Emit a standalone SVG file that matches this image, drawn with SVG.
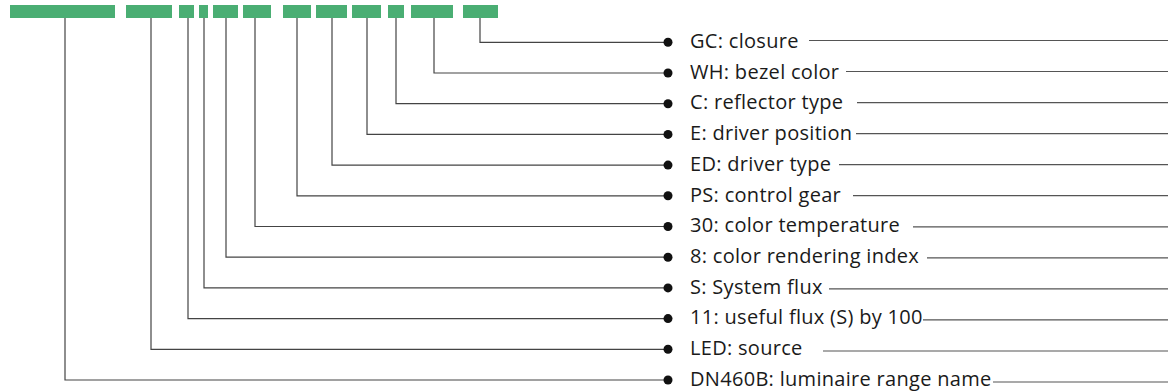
<svg xmlns="http://www.w3.org/2000/svg" width="1168" height="392" viewBox="0 0 1168 392">
<style>
.bar{fill:#4aae73}
.ln{fill:none;stroke:#444;stroke-width:1.2}
.rl{fill:none;stroke:#555;stroke-width:1.2}
.dot{fill:#111}
.t{font-family:"Open Sans","Noto Sans",sans-serif;font-size:20px;letter-spacing:0.3px;fill:#1a1a1a}
</style>
<rect width="1168" height="392" fill="#fff"/>
<g id="bars">
<rect class="bar" x="10" y="5" width="105" height="13"/>
<rect class="bar" x="126" y="5" width="46" height="13"/>
<rect class="bar" x="179" y="5" width="15" height="13"/>
<rect class="bar" x="199" y="5" width="9" height="13"/>
<rect class="bar" x="213" y="5" width="25" height="13"/>
<rect class="bar" x="243" y="5" width="28" height="13"/>
<rect class="bar" x="283" y="5" width="28" height="13"/>
<rect class="bar" x="316" y="5" width="31" height="13"/>
<rect class="bar" x="352" y="5" width="29" height="13"/>
<rect class="bar" x="388" y="5" width="16" height="13"/>
<rect class="bar" x="411" y="5" width="42" height="13"/>
<rect class="bar" x="463" y="5" width="35" height="13"/>
</g>
<g id="connectors">
<path class="ln" d="M480,18V42.3H667"/>
<path class="ln" d="M434,18V73H667"/>
<path class="ln" d="M396,18V103.7H667"/>
<path class="ln" d="M367,18V134.4H667"/>
<path class="ln" d="M332,18V165.1H667"/>
<path class="ln" d="M297,18V195.8H667"/>
<path class="ln" d="M255,18V226.5H667"/>
<path class="ln" d="M226,18V257.2H667"/>
<path class="ln" d="M204,18V287.9H667"/>
<path class="ln" d="M188,18V318.6H667"/>
<path class="ln" d="M151,18V349.3H667"/>
<path class="ln" d="M65,18V380H667"/>
<path class="rl" d="M809,40.5H1168"/>
<path class="rl" d="M846,71.5H1168"/>
<path class="rl" d="M857,102.6H1168"/>
<path class="rl" d="M856,133.6H1168"/>
<path class="rl" d="M839,164.7H1168"/>
<path class="rl" d="M853,195.7H1168"/>
<path class="rl" d="M913,226.8H1168"/>
<path class="rl" d="M927,257.8H1168"/>
<path class="rl" d="M829,288.9H1168"/>
<path class="rl" d="M923,319.9H1168"/>
<path class="rl" d="M823,351H1168"/>
<path class="rl" d="M993,382H1168"/>
</g>
<g id="n-gc"><circle class="dot" cx="668" cy="42.3" r="4.5"/><text class="t" x="690" y="48">GC: closure</text></g>
<g id="n-wh"><circle class="dot" cx="668" cy="73" r="4.5"/><text class="t" x="690" y="78.7">WH: bezel color</text></g>
<g id="n-c"><circle class="dot" cx="668" cy="103.7" r="4.5"/><text class="t" x="690" y="109.4">C: reflector type</text></g>
<g id="n-e"><circle class="dot" cx="668" cy="134.4" r="4.5"/><text class="t" x="690" y="140.1">E: driver position</text></g>
<g id="n-ed"><circle class="dot" cx="668" cy="165.1" r="4.5"/><text class="t" x="690" y="170.8">ED: driver type</text></g>
<g id="n-ps"><circle class="dot" cx="668" cy="195.8" r="4.5"/><text class="t" x="690" y="201.5">PS: control gear</text></g>
<g id="n-30"><circle class="dot" cx="668" cy="226.5" r="4.5"/><text class="t" x="690" y="232.2">30: color temperature</text></g>
<g id="n-8"><circle class="dot" cx="668" cy="257.2" r="4.5"/><text class="t" x="690" y="262.9">8: color rendering index</text></g>
<g id="n-s"><circle class="dot" cx="668" cy="287.9" r="4.5"/><text class="t" x="690" y="293.6">S: System flux</text></g>
<g id="n-11"><circle class="dot" cx="668" cy="318.6" r="4.5"/><text class="t" x="690" y="324.3">11: useful flux (S) by 100</text></g>
<g id="n-led"><circle class="dot" cx="668" cy="349.3" r="4.5"/><text class="t" x="690" y="355">LED: source</text></g>
<g id="n-dn"><circle class="dot" cx="668" cy="380" r="4.5"/><text class="t" x="690" y="385.7">DN460B: luminaire range name</text></g>
</svg>
